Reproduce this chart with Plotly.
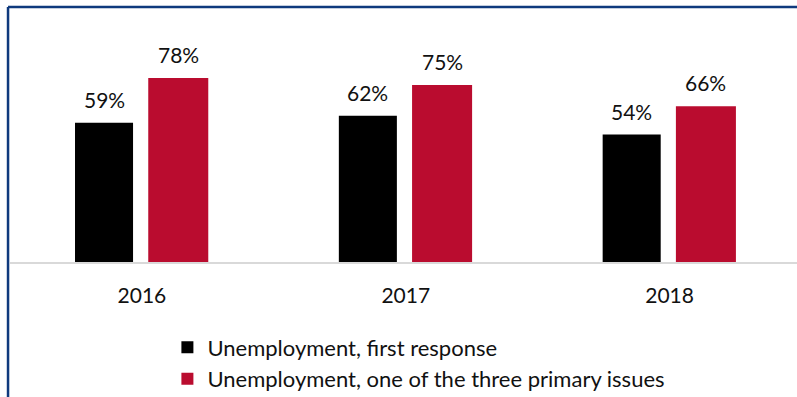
import plotly.graph_objects as go

years = ["2016", "2017", "2018"]
first_response = [59, 62, 54]
top_three = [78, 75, 66]
series_names = ["Unemployment, first response",
                "Unemployment, one of the three primary issues"]
colors = ["#000000", "#ba0c2f"]

xs = list(range(len(years)))
offsets = [-0.2536, 0.024]
widths = [0.22, 0.2275]
values = [first_response, top_three]

fig = go.Figure()
for name, vals, col, off, w in zip(series_names, values, colors, offsets, widths):
    fig.add_trace(go.Bar(
        x=xs, y=vals, name=name, marker=dict(color=col, line=dict(width=0)),
        offset=off, width=w, hoverinfo="skip",
    ))
    for xi, v in zip(xs, vals):
        fig.add_annotation(
            x=xi + off + w / 2, y=v, text=f"{v}%", showarrow=False,
            yanchor="bottom", xanchor="center", yshift=9,
            font=dict(family="Lato", size=21, color="#111111"),
        )

# decorative frame (top and left edges visible)
fig.add_shape(type="line", xref="paper", yref="paper",
              x0=-0.0025, x1=1.01, y0=1.0805, y1=1.0805,
              line=dict(color="#0f3a7d", width=2.5))
fig.add_shape(type="line", xref="paper", yref="paper",
              x0=-0.0025, x1=-0.0025, y0=1.0805, y1=-0.6,
              line=dict(color="#0f3a7d", width=2.5))

fig.update_layout(
    width=797, height=397,
    margin=dict(l=10, r=0, t=26, b=135),
    paper_bgcolor="white", plot_bgcolor="white",
    barmode="overlay",
    showlegend=True,
    legend=dict(x=0.2, y=0.178, xref="paper", yref="container",
                xanchor="left", yanchor="top",
                orientation="v", font=dict(family="Lato", size=22, color="#111111"),
                itemwidth=30, tracegroupgap=0, bgcolor="rgba(0,0,0,0)"),
    xaxis=dict(range=[-0.5, 2.483], tickvals=xs, ticktext=years,
               showline=True, linecolor="#d9d9d9", linewidth=2,
               ticks="outside", ticklen=14, tickcolor="rgba(0,0,0,0)",
               tickfont=dict(family="Lato", size=21, color="#111111"),
               showgrid=False, zeroline=False, fixedrange=True),
    yaxis=dict(range=[0, 100], visible=False, showgrid=False, zeroline=False),
)

fig.write_html("out.html")
